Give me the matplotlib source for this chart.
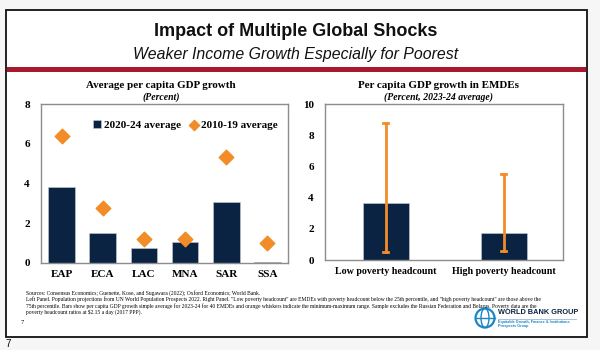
import matplotlib.pyplot as plt
from matplotlib.patches import Rectangle, Circle, Ellipse

# left panel data
regions = ["EAP", "ECA", "LAC", "MNA", "SAR", "SSA"]
growth_2020_24 = [3.82, 1.52, 0.74, 1.07, 3.05, 0.05]
growth_2010_19 = [6.4, 2.78, 1.19, 1.2, 5.35, 0.99]

# right panel data
groups = ["Low poverty headcount", "High poverty headcount"]
group_avg = [3.63, 1.71]
group_min = [0.49, 0.6]
group_max = [8.8, 5.49]

navy = "#0b2343"
orange = "#f28c28"
red = "#a6192e"
serif = "Liberation Serif"
W, H = 600, 350


def box(x0, y0, x1, y1):
    # pixel box -> figure fraction
    return [x0 / W, 1 - y1 / H, (x1 - x0) / W, (y1 - y0) / H]


fig = plt.figure(figsize=(6, 3.5), dpi=100)
fig.patch.set_facecolor("#f6f6f6")

# slide frame
bg = fig.add_axes([0, 0, 1, 1])
bg.set_xlim(0, W)
bg.set_ylim(H, 0)
bg.axis("off")
bg.add_patch(Rectangle((6, 10), 581, 327, facecolor="white", edgecolor="#111111", lw=1.3))
bg.add_patch(Rectangle((7, 67), 579, 4.5, facecolor=red, edgecolor="none"))

bg.text(296, 31, "Impact of Multiple Global Shocks", ha="center", va="center",
        fontsize=13, fontweight="bold", family="Liberation Sans", color="#111111")
bg.text(296, 54, "Weaker Income Growth Especially for Poorest", ha="center", va="center",
        fontsize=11.4, style="italic", family="Liberation Sans", color="#111111")

# panel titles
bg.text(161, 85, "Average per capita GDP growth", ha="center", va="center",
        fontsize=7.9, fontweight="bold", family=serif)
bg.text(161, 97, "(Percent)", ha="center", va="center",
        fontsize=7, fontweight="bold", style="italic", family=serif)
bg.text(438, 85, "Per capita GDP growth in EMDEs", ha="center", va="center",
        fontsize=7.9, fontweight="bold", family=serif)
bg.text(438, 97, "(Percent, 2023-24 average)", ha="center", va="center",
        fontsize=7, fontweight="bold", style="italic", family=serif)

# sources / notes
notes = [
    "Sources: Consensus Economics; Guenette, Kose, and Sugawara (2022); Oxford Economics; World Bank.",
    "Left Panel. Population projections from UN World Population Prospects 2022. Right Panel. \"Low poverty headcount\" are EMDEs with poverty headcount below the 25th percentile, and \"high poverty headcount\" are those above the",
    "75th percentile. Bars show per capita GDP growth simple average for 2023-24 for 40 EMDEs and orange whiskers indicate the minimum-maximum range. Sample excludes the Russian Federation and Belarus. Poverty data are the",
    "poverty headcount ratios at $2.15 a day (2017 PPP).",
]
for i, line in enumerate(notes):
    bg.text(26, 293 + i * 6.5, line, ha="left", va="center", fontsize=4.0, family=serif)
bg.text(22, 323, "7", ha="center", va="center", fontsize=4.5, family=serif)
bg.text(8, 344, "7", ha="center", va="center", fontsize=7, family="Liberation Sans")

# world bank logo
bg.add_patch(Circle((485, 318), 9.5, facecolor="none", edgecolor="#1a86c7", lw=1.6))
bg.add_patch(Ellipse((485, 318), 8, 19, facecolor="none", edgecolor="#1a86c7", lw=1))
bg.plot([475.5, 494.5], [318, 318], color="#1a86c7", lw=1)
bg.text(498, 313, "WORLD BANK GROUP", ha="left", va="center", fontsize=5.3,
        fontweight="bold", family="Liberation Sans", color="#0b2343")
bg.plot([498, 576], [318.5, 318.5], color="#9ab7d3", lw=0.6)
bg.text(498, 321.5, "Equitable Growth, Finance & Institutions", ha="left", va="center",
        fontsize=2.7, fontweight="bold", family="Liberation Sans", color="#1a86c7")
bg.text(498, 326.5, "Prospects Group", ha="left", va="center",
        fontsize=2.7, fontweight="bold", family="Liberation Sans", color="#1a86c7")


def style(ax, size):
    for s in ax.spines.values():
        s.set_color("#8c8c8c")
        s.set_linewidth(1)
    ax.tick_params(axis="y", length=0, pad=8)
    ax.tick_params(axis="x", length=0, pad=5)
    for lab in ax.get_yticklabels():
        lab.set_fontfamily(serif)
        lab.set_fontweight("bold")
        lab.set_fontsize(8)
    for lab in ax.get_xticklabels():
        lab.set_fontfamily(serif)
        lab.set_fontweight("bold")
        lab.set_fontsize(size)


# left panel
ax1 = fig.add_axes(box(41, 104, 288, 263))
x1 = range(len(regions))
bars = ax1.bar(x1, growth_2020_24, width=0.65, color=navy, edgecolor="#c8ccd4", lw=0.4,
               label="2020-24 average", zorder=2)
dots = ax1.scatter(x1, growth_2010_19, marker="D", s=55, color=orange, zorder=3,
                   label="2010-19 average")
ax1.set_xlim(-0.5, 5.5)
ax1.set_ylim(0, 8)
ax1.set_yticks([0, 2, 4, 6, 8])
ax1.set_xticks(list(x1))
ax1.set_xticklabels(regions)
style(ax1, 8)
ax1.legend(handles=[bars, dots], loc="upper right", bbox_to_anchor=(1.0, 0.96), ncol=2,
           frameon=False, prop={"family": serif, "weight": "bold", "size": 8},
           handlelength=0.7, handleheight=0.7, handletextpad=0.3, columnspacing=0.8,
           markerscale=0.7)

# right panel
ax2 = fig.add_axes(box(325, 104, 563, 260))
x2 = range(len(groups))
ax2.bar(x2, group_avg, width=0.39, color=navy, edgecolor="#c8ccd4", lw=0.4)
for i in x2:
    ax2.plot([i, i], [group_min[i], group_max[i]], color=orange, lw=2, zorder=3)
    ax2.plot([i - 0.022, i + 0.022], [group_max[i]] * 2, color=orange, lw=2, zorder=3)
    ax2.plot([i - 0.022, i + 0.022], [group_min[i]] * 2, color=orange, lw=2, zorder=3)
ax2.set_xlim(-0.513, 1.5)
ax2.set_ylim(0, 10)
ax2.set_yticks([0, 2, 4, 6, 8, 10])
ax2.set_xticks(list(x2))
ax2.set_xticklabels(groups)
style(ax2, 7.2)

fig.savefig("out.png", dpi=100, facecolor=fig.get_facecolor())
